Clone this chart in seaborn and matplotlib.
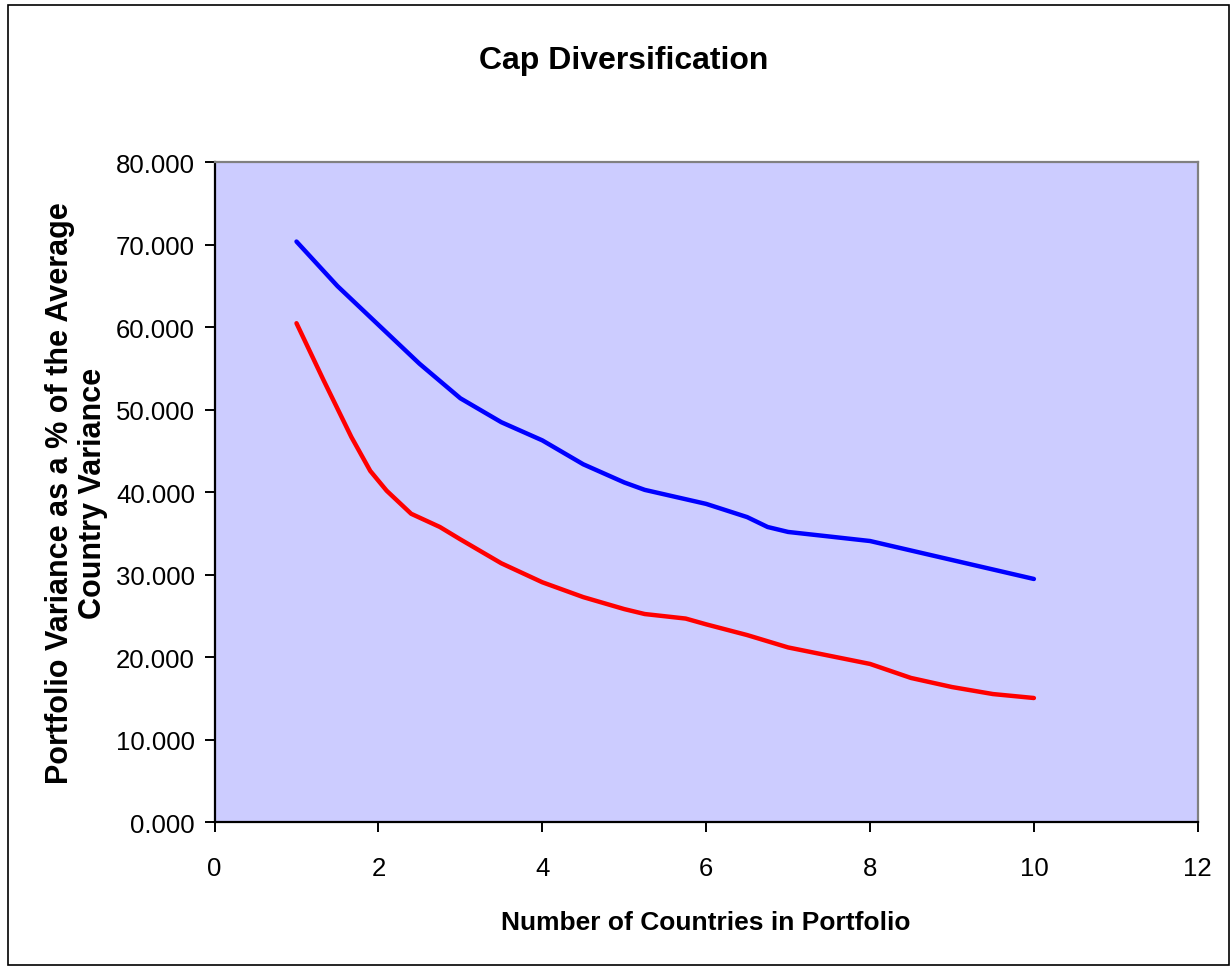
import matplotlib
matplotlib.use("Agg")
import matplotlib.pyplot as plt
from matplotlib.patches import Rectangle
from matplotlib.ticker import FormatStrFormatter
import seaborn as sns
import pandas as pd

# Number of countries held and the resulting portfolio variance (% of average country variance)
upper_x = [1, 1.5, 2, 2.5, 3, 3.5, 4, 4.5, 5, 5.25, 6, 6.5, 6.75, 7, 8, 9, 10]
upper_y = [70.4, 65.0, 60.3, 55.6, 51.4, 48.5, 46.3, 43.4, 41.2, 40.3, 38.6, 37.0, 35.8, 35.2, 34.1, 31.8, 29.5]

lower_x = [1, 1.33, 1.67, 1.9, 2.1, 2.4, 2.75, 3, 3.5, 4, 4.5, 5, 5.25, 5.75, 6, 6.5, 7, 7.5, 8, 8.5, 9, 9.5, 10]
lower_y = [60.5, 53.6, 46.7, 42.6, 40.2, 37.4, 35.8, 34.3, 31.4, 29.1, 27.3, 25.85, 25.25, 24.7, 24.0, 22.7, 21.2, 20.2, 19.2, 17.5, 16.4, 15.55, 15.07]

x_ticks = [0, 2, 4, 6, 8, 10, 12]
y_ticks = [0, 10, 20, 30, 40, 50, 60, 70, 80]

title = "Cap Diversification"
x_label = "Number of Countries in Portfolio"
y_label = "Portfolio Variance as a % of the Average\nCountry Variance"

sns.set_theme(style="white")
plt.rcParams["font.family"] = ["Liberation Sans", "DejaVu Sans"]
plt.rcParams["text.color"] = "#000000"
plt.rcParams["axes.labelcolor"] = "#000000"

fig = plt.figure(figsize=(12.31, 9.70), dpi=100)
ax = fig.add_axes([0.1743, 0.1512, 0.7987, 0.6804])
ax.set_facecolor("#CCCCFF")

upper = pd.DataFrame({"x": upper_x, "y": upper_y})
lower = pd.DataFrame({"x": lower_x, "y": lower_y})
sns.lineplot(data=upper, x="x", y="y", ax=ax, color="#0000FF", linewidth=3.2,
             solid_capstyle="round", solid_joinstyle="round", sort=False, estimator=None)
sns.lineplot(data=lower, x="x", y="y", ax=ax, color="#FF0000", linewidth=3.2,
             solid_capstyle="round", solid_joinstyle="round", sort=False, estimator=None)

ax.set_xlim(0, 12)
ax.set_ylim(0, 80)
ax.set_xticks(x_ticks)
ax.set_yticks(y_ticks)
ax.yaxis.set_major_formatter(FormatStrFormatter("%.3f"))
ax.grid(False)

for side in ("left", "bottom"):
    ax.spines[side].set_color("#000000")
    ax.spines[side].set_linewidth(1.6)
for side in ("top", "right"):
    ax.spines[side].set_color("#808080")
    ax.spines[side].set_linewidth(1.6)

ax.tick_params(axis="both", direction="out", length=7, width=1.4, color="#000000",
               labelsize=18.5, labelcolor="#000000")
ax.tick_params(axis="x", pad=17, bottom=True)
ax.tick_params(axis="y", pad=7, left=True)

ax.set_xlabel(x_label, fontsize=19, fontweight="bold", labelpad=22)
ax.set_ylabel(y_label, fontsize=22, fontweight="bold", labelpad=6, linespacing=1.1)

fig.text(0.5065, 0.937, title, ha="center", va="center", fontsize=23, fontweight="bold")

# Chart-area frame
fig.patches.append(Rectangle((8 / 1231, 4 / 970), 1 - 10 / 1231, 1 - 10 / 970,
                             transform=fig.transFigure, fill=False,
                             edgecolor="#000000", linewidth=1.2))

fig.savefig("out.png", dpi=100)
